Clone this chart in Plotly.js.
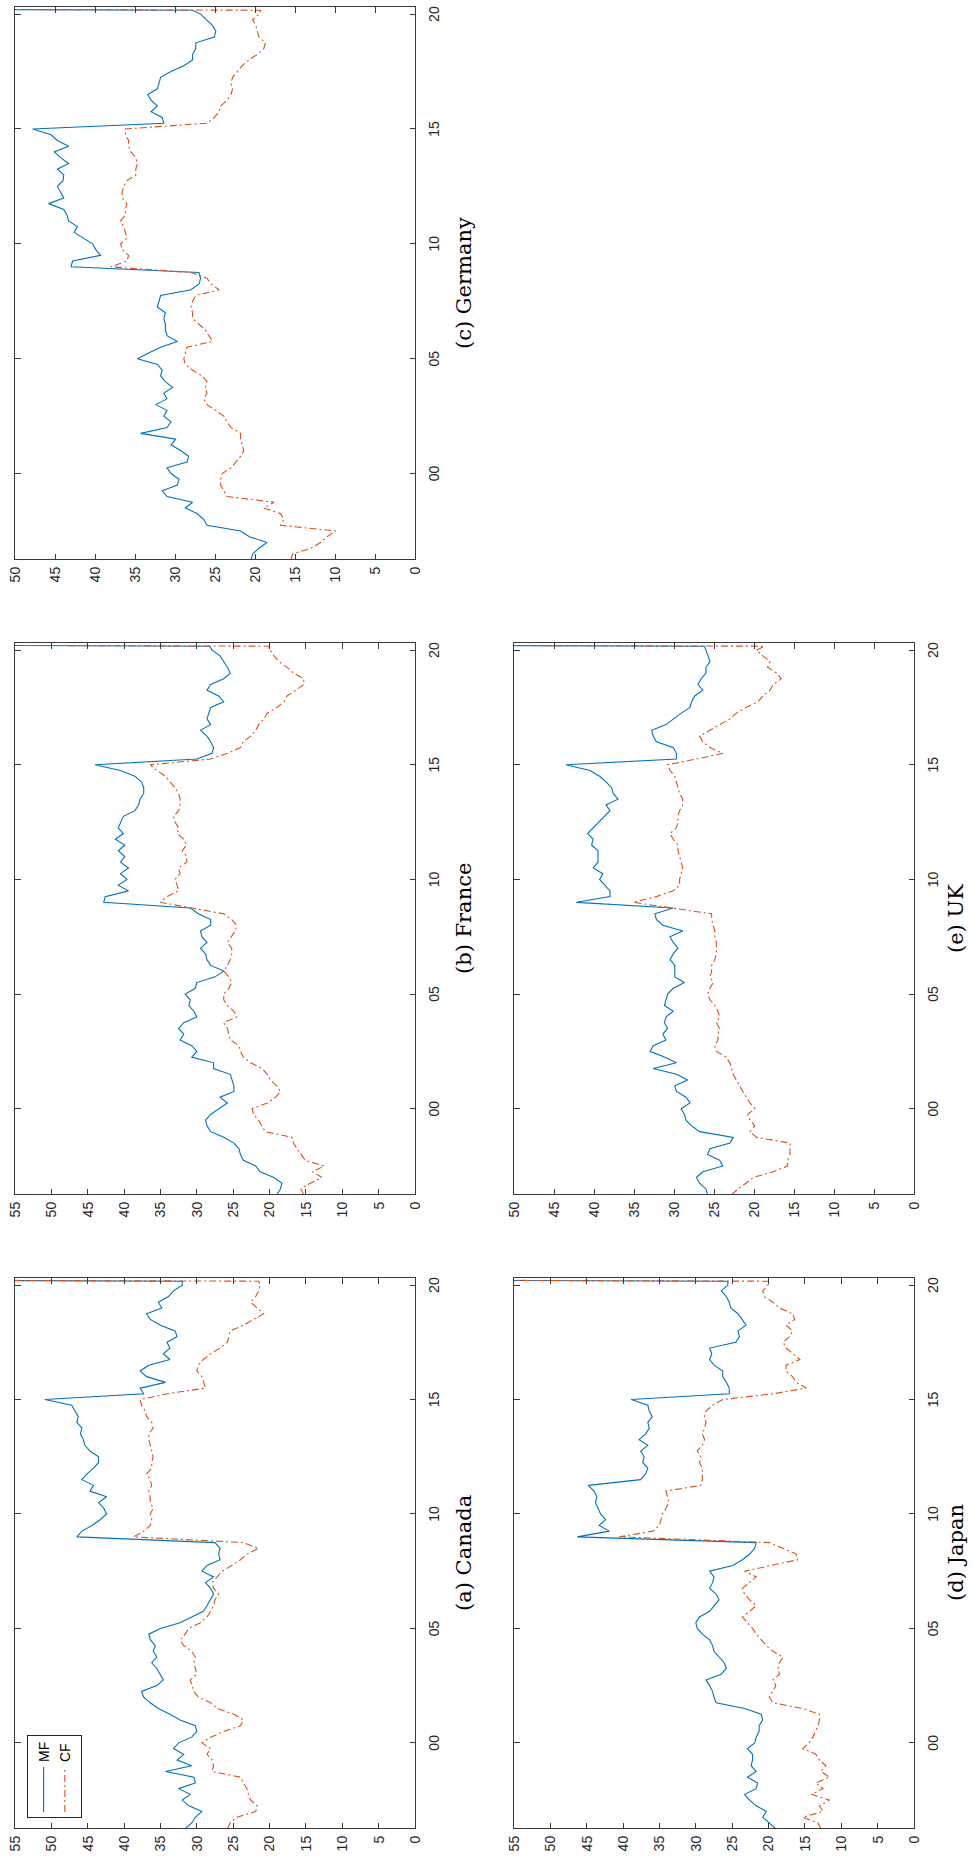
<!DOCTYPE html>
<html>
<head>
<meta charset="utf-8">
<script src="https://cdn.plot.ly/plotly-3.0.1.min.js"></script>
<style>
html,body{margin:0;padding:0;width:973px;height:1861px;overflow:hidden;background:#fff;}
#wrap{position:absolute;left:0;top:0;width:1861px;height:973px;transform-origin:0 0;transform:translateY(1861px) rotate(-90deg);}
</style>
</head>
<body>
<div id="wrap"><div id="chart" style="width:1861px;height:973px;"></div></div>
<script>
// time (decimal years), quarterly; the last point is the off-scale 2020 spike
const quarters = [1996.25,1996.5,1996.75,
1997,1997.25,1997.5,1997.75, 1998,1998.25,1998.5,1998.75, 1999,1999.25,1999.5,1999.75,
2000,2000.25,2000.5,2000.75, 2001,2001.25,2001.5,2001.75, 2002,2002.25,2002.5,2002.75,
2003,2003.25,2003.5,2003.75, 2004,2004.25,2004.5,2004.75, 2005,2005.25,2005.5,2005.75,
2006,2006.25,2006.5,2006.75, 2007,2007.25,2007.5,2007.75, 2008,2008.25,2008.5,2008.75,
2009,2009.25,2009.5,2009.75, 2010,2010.25,2010.5,2010.75, 2011,2011.25,2011.5,2011.75,
2012,2012.25,2012.5,2012.75, 2013,2013.25,2013.5,2013.75, 2014,2014.25,2014.5,2014.75,
2015,2015.25,2015.5,2015.75, 2016,2016.25,2016.5,2016.75, 2017,2017.25,2017.5,2017.75,
2018,2018.25,2018.5,2018.75, 2019,2019.25,2019.5,2019.75, 2020,2020.17,2020.25];

const yearTicks = [2000, 2005, 2010, 2015, 2020];
const yearLabels = ['00', '05', '10', '15', '20'];
const seriesNames = ['MF', 'CF'];
const panelTitles = ['(a) Canada', '(b) France', '(c) Germany', '(d) Japan', '(e) UK'];
const valueMax = [55, 55, 50, 55, 50];

const canadaMF = [31.6,30.7,30.2, 29.3,31.1,32.0,30.9, 32.5,30.2,30.4,34.3, 30.7,32.7,31.8,33.2,
32.5,30.7,30.0,30.2, 32.3,33.7,35.3,36.4, 37.3,37.6,35.5,34.6, 35.0,35.5,36.2,35.5,
36.0,35.7,36.4,36.6, 35.0,32.3,30.7,29.1, 28.6,28.1,27.7,28.1, 28.8,27.7,29.3,28.6,
26.8,27.0,26.8,27.5, 46.5,45.8,44.4,43.3, 42.4,42.8,43.5,42.4, 44.7,44.2,45.8,45.1,
44.2,43.5,43.5,44.7, 45.4,45.6,46.0,45.8, 46.5,46.3,46.7,47.2, 50.9,37.3,37.8,34.3,
36.9,37.8,36.6,33.7, 34.6,33.7,34.1,32.7, 33.0,35.0,36.4,36.9, 34.8,35.3,33.9,33.2,
32.0,32.0,100];
const canadaCF = [25.8,25.4,24.5, 21.9,21.7,22.6,22.9, 23.1,23.6,24.0,27.9, 27.7,27.9,28.6,28.1,
29.3,28.1,26.3,24.0, 23.6,24.9,27.2,28.1, 29.8,30.4,30.7,30.9, 30.0,30.2,30.4,30.2,
30.7,31.8,32.3,31.6, 31.1,29.5,28.6,28.1, 27.7,27.5,27.0,27.7, 27.9,27.2,26.5,25.2,
24.0,23.1,21.5,23.6, 38.7,37.3,36.4,36.2, 36.4,36.0,36.4,36.4, 36.6,36.2,36.4,36.9,
36.2,36.2,36.0,36.2, 36.4,36.6,36.6,36.0, 36.2,36.9,37.1,37.6, 37.8,34.1,28.8,29.1,
29.3,30.0,29.8,29.1, 28.1,26.8,25.8,25.6, 25.4,23.6,22.2,20.8, 21.7,22.6,21.9,21.5,
21.3,21.5,100];

const franceMF = [19.0,18.5,18.3, 19.4,21.3,21.9,23.6, 24.0,24.2,24.9,26.3, 28.1,28.6,28.8,28.1,
27.0,25.8,26.8,24.9, 24.9,25.2,25.4,27.7, 27.7,30.7,30.0,30.7, 32.3,31.8,32.5,31.8,
30.0,30.4,31.1,30.9, 31.6,30.2,30.0,27.5, 26.3,28.1,28.6,28.8, 29.5,28.6,29.3,29.5,
28.1,28.1,29.8,30.9, 42.8,42.6,39.4,40.8, 39.6,40.5,39.4,40.5, 39.9,40.8,39.9,41.2,
40.1,40.8,40.5,40.1, 38.5,38.0,37.8,37.3, 37.3,37.6,38.5,40.5, 44.0,30.0,27.9,27.7,
28.1,28.6,29.5,28.1, 28.6,28.4,28.1,26.3, 27.0,28.6,28.1,26.3, 25.4,25.8,26.3,26.8,
27.9,28.2,100];
const franceCF = [15.3,15.7,14.4, 12.8,14.1,12.5,15.1, 15.7,16.2,16.7,16.9, 20.6,21.0,21.5,22.2,
22.4,20.3,19.2,18.5, 19.0,19.9,20.3,21.0, 22.6,23.6,24.0,24.2, 25.4,25.6,25.8,26.3,
24.5,24.9,25.8,26.3, 26.3,25.6,25.2,25.6, 26.3,25.8,25.4,25.2, 25.2,25.8,25.2,24.7,
24.5,25.2,26.3,30.4, 35.0,34.1,32.5,32.7, 33.0,32.3,32.5,31.4, 31.4,32.0,31.4,31.8,
32.7,32.5,33.0,33.2, 32.5,32.3,32.3,32.5, 33.0,33.7,34.3,35.5, 36.4,28.1,25.8,24.0,
23.6,22.6,21.9,21.5, 20.8,20.3,19.0,18.0, 17.6,16.4,15.3,15.3, 16.7,17.6,18.7,19.4,
19.9,20.1,100];

const germanyMF = [20.5,20.3,19.5, 18.5,20.7,21.8,26.0, 26.4,27.2,28.7,27.8, 31.0,31.6,29.7,29.5,
30.5,31.0,28.5,28.3, 29.3,30.5,29.9,34.3, 31.0,30.5,31.4,31.0, 32.4,31.0,31.4,30.3,
31.2,31.8,31.6,32.2, 34.7,33.3,31.8,29.7, 31.0,31.2,31.2,31.4, 31.2,32.2,32.0,31.8,
28.0,27.0,26.8,27.0, 43.0,42.8,39.3,39.9, 40.3,41.4,42.6,42.2, 43.3,43.5,43.9,45.8,
43.9,44.3,44.7,44.0, 43.9,44.7,43.3,44.3, 45.1,43.3,44.7,45.5, 47.8,31.4,31.6,33.0,
32.2,33.0,33.4,32.2, 32.0,31.8,30.5,28.9, 27.8,27.8,27.4,27.4, 25.1,24.9,25.3,26.0,
26.8,27.8,100];
const germanyCF = [15.5,15.3,13.0, 11.8,11.0,9.9,16.8, 16.4,16.8,18.9,17.6, 23.5,23.9,24.3,24.3,
24.1,23.0,22.4,21.8, 21.4,21.6,21.8,21.8, 23.0,23.5,23.9,24.9, 26.0,26.4,26.0,26.2,
26.0,26.6,27.8,28.7, 28.9,28.7,28.5,25.3, 25.8,26.2,27.0,27.8, 27.8,28.0,27.8,27.4,
24.5,25.5,26.0,28.0, 38.0,36.0,35.8,36.6, 36.8,36.0,36.2,36.4, 36.8,36.2,36.2,36.0,
36.6,36.6,36.4,36.0, 34.9,34.9,34.7,34.9, 35.5,35.8,35.8,36.2, 36.2,26.0,25.1,24.5,
24.3,23.5,23.0,22.8, 23.0,22.8,22.2,21.6, 20.8,19.7,18.9,18.7, 19.5,19.7,19.9,20.3,
19.5,19.3,100];

const japanMF = [19.0,19.9,20.8, 20.3,21.7,22.6,23.3, 21.7,21.5,22.9,21.7, 22.4,22.2,22.2,22.9,
21.9,21.7,21.3,21.3, 20.8,21.0,23.3,27.2, 27.5,27.7,28.1,28.6, 26.5,25.8,26.1,26.8,
27.5,27.7,28.1,29.1, 29.8,30.0,29.5,28.1, 27.5,26.8,27.2,28.1, 27.7,27.5,28.1,24.9,
23.6,22.6,21.9,21.7, 46.3,41.9,43.3,42.4, 43.1,43.5,43.8,43.6, 44.0,44.8,37.6,36.9,
36.6,37.3,37.1,37.6, 36.6,37.8,36.9,36.4, 36.6,36.0,36.4,36.6, 38.9,25.4,25.4,25.8,
26.3,26.3,27.5,28.1, 27.8,28.1,24.5,24.0, 24.2,23.1,23.6,24.2, 25.2,25.4,25.8,26.5,
25.6,25.6,100];
const japanCF = [12.8,13.2,15.3, 12.5,13.0,11.6,14.1, 12.5,13.5,11.6,12.8, 12.1,13.0,13.5,15.3,
14.4,13.9,13.5,13.2, 13.0,13.0,15.3,19.4, 19.9,19.4,19.0,19.4, 18.5,18.7,18.5,18.0,
19.4,20.3,21.0,21.7, 22.2,22.9,23.6,22.6, 21.7,22.6,23.3,23.6, 22.6,21.7,23.3,19.4,
16.0,16.2,18.0,19.9, 40.5,35.9,35.0,34.8, 34.6,34.1,33.7,33.9, 34.1,29.3,29.1,29.1,
29.1,29.5,29.3,29.8, 29.1,28.8,29.1,28.8, 28.6,28.8,28.6,27.7, 26.3,19.4,14.8,16.2,
16.7,17.6,17.6,15.7, 16.7,17.6,18.0,17.1, 16.7,17.6,16.4,16.7, 18.5,19.4,20.6,20.8,
20.1,19.9,100];

const ukMF = [25.8,26.0,26.8, 27.2,26.4,23.9,24.3, 25.8,25.5,23.0,22.6, 26.8,27.8,28.5,28.7,
29.1,28.0,28.5,29.7, 29.9,28.3,29.7,32.6, 29.7,31.2,33.0,32.6, 31.0,31.4,30.8,31.2,
31.0,30.1,31.2,31.0, 30.8,30.1,28.7,29.9, 29.9,29.9,30.5,30.1, 29.5,30.1,30.5,28.9,
31.4,32.2,32.4,30.1, 42.2,38.0,38.0,38.7, 39.3,38.9,40.1,39.5, 39.5,39.5,40.3,40.1,
40.8,40.1,39.3,38.7, 38.0,38.5,37.0,37.6, 37.8,38.5,39.3,40.5, 43.5,29.7,29.7,30.1,
32.2,32.6,32.8,31.0, 30.1,29.1,28.0,27.8, 27.4,26.4,27.0,26.6, 26.0,26.0,25.5,25.8,
26.0,26.2,100];
const ukCF = [22.8,22.0,21.0, 20.1,17.6,15.8,15.8, 15.5,15.5,15.5,19.7, 20.5,19.9,20.5,20.8,
19.9,20.5,21.0,21.4, 21.8,22.2,22.6,22.8, 23.0,23.5,24.7,24.9, 24.5,24.5,24.3,24.7,
24.3,24.5,24.9,25.5, 25.8,25.5,25.1,25.5, 25.3,25.3,24.9,24.7, 24.7,24.7,24.9,24.9,
25.1,25.3,25.3,30.1, 35.1,32.2,30.1,29.3, 29.3,29.1,28.9,29.1, 29.3,29.5,29.5,30.1,
30.5,29.7,29.5,29.5, 29.3,28.9,28.9,29.3, 29.5,29.7,29.9,30.5, 30.8,27.2,23.9,25.5,
26.4,26.8,25.5,24.3, 23.0,22.2,21.0,19.5, 18.9,18.0,17.6,16.6, 17.2,18.3,18.0,18.9,
19.7,18.7,100];

const mfSeries = [canadaMF, franceMF, germanyMF, japanMF, ukMF];
const cfSeries = [canadaCF, franceCF, germanyCF, japanCF, ukCF];

// layout geometry (landscape page, later turned a quarter turn like the reference)
const W = 1861, H = 973;
const colDomains = [[33/W, 583/W], [667/W, 1218/W], [1302/W, 1854/W]];
const rowDomains = [[1 - 415/H, 1 - 15/H], [1 - 914/H, 1 - 514/H]];
const panelCell = [[0,0],[0,1],[0,2],[1,0],[1,1]]; // [row, col]
const titleY = [1 - 464/H, 1 - 956/H];

const MF_COLOR = '#0072BD', CF_COLOR = '#D95319';
const AX_COLOR = '#3a3a3a';
const tickFont = {family: 'Liberation Sans, Arial, Helvetica, sans-serif', size: 14, color: '#262626'};

const traces = [];
const layout = {
  width: W, height: H,
  margin: {l: 0, r: 0, t: 0, b: 0},
  paper_bgcolor: '#fff', plot_bgcolor: '#fff',
  showlegend: true,
  legend: {
    x: 43/W, y: 1 - 27/H, xanchor: 'left', yanchor: 'top',
    bgcolor: '#fff', bordercolor: '#262626', borderwidth: 1,
    font: {family: 'Liberation Sans, Arial, sans-serif', size: 14, color: '#000'},
    itemwidth: 45, tracegroupgap: 0
  },
  annotations: []
};

for (let i = 0; i < 5; i++) {
  const n = i === 0 ? '' : String(i + 1);
  const [r, c] = panelCell[i];
  traces.push({
    x: quarters, y: mfSeries[i], xaxis: 'x' + n, yaxis: 'y' + n,
    type: 'scatter', mode: 'lines', name: seriesNames[0],
    line: {color: MF_COLOR, width: 1.1},
    showlegend: i === 0, legendrank: 1
  });
  traces.push({
    x: quarters, y: cfSeries[i], xaxis: 'x' + n, yaxis: 'y' + n,
    type: 'scatter', mode: 'lines', name: seriesNames[1],
    line: {color: CF_COLOR, width: 1.1, dash: '7px,3px,2px,3px'},
    showlegend: i === 0, legendrank: 2
  });
  const common = {
    showline: true, linecolor: AX_COLOR, linewidth: 1, mirror: 'ticks',
    ticks: 'inside', ticklen: 5.5, tickwidth: 1, tickcolor: AX_COLOR,
    showgrid: false, zeroline: false, tickfont: tickFont, fixedrange: true
  };
  layout['xaxis' + n] = Object.assign({}, common, {
    domain: colDomains[c], anchor: 'y' + n,
    range: [1996.28, 2020.31],
    tickmode: 'array', tickvals: yearTicks, ticktext: yearLabels,
    ticklabelstandoff: 6
  });
  layout['yaxis' + n] = Object.assign({}, common, {
    domain: rowDomains[r], anchor: 'x' + n,
    range: [0, valueMax[i]], tickmode: 'linear', tick0: 0, dtick: 5,
    ticklabelstandoff: 4
  });
  layout.annotations.push({
    xref: 'paper', yref: 'paper',
    x: (colDomains[c][0] + colDomains[c][1]) / 2, y: titleY[r],
    xanchor: 'center', yanchor: 'middle', showarrow: false,
    text: panelTitles[i],
    font: {family: 'DejaVu Serif, Liberation Serif, serif', size: 21, color: '#000'}
  });
}

Plotly.newPlot('chart', traces, layout, {staticPlot: true, displayModeBar: false, responsive: false});
</script>
</body>
</html>
